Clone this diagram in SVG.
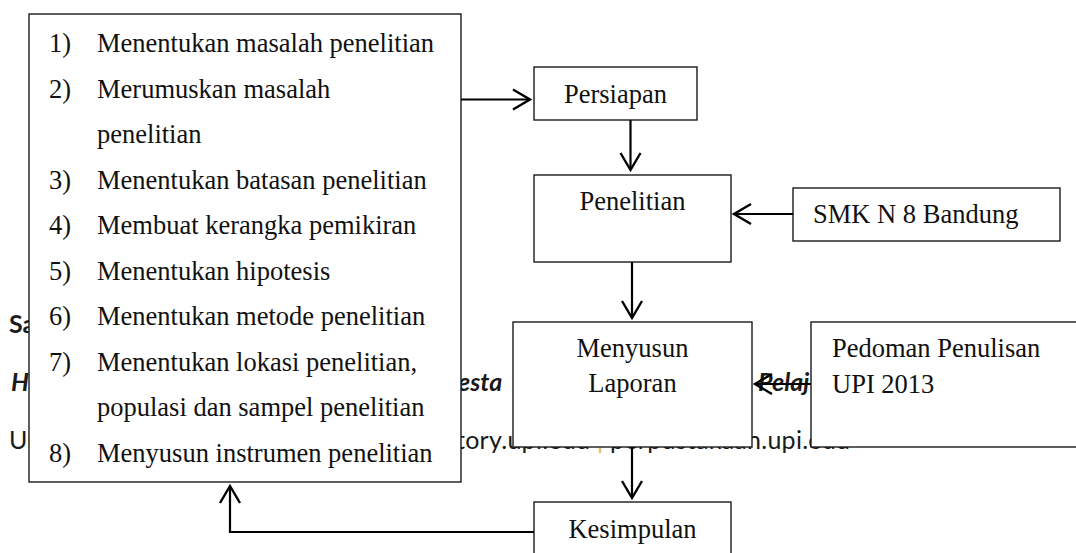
<svg xmlns="http://www.w3.org/2000/svg" width="1076" height="553" viewBox="0 0 1076 553">
<defs>
<style>
.box{fill:#fff;stroke:#1a1a1a;stroke-width:1.4}
.t{font-family:"Liberation Serif","Times New Roman",serif;font-size:26.5px;fill:#111}
.c{text-anchor:middle}
.wm{font-family:Lato,"Open Sans",sans-serif;font-size:25px;fill:#1a1a1a}
.ln{fill:none;stroke:#000;stroke-width:2.2}
</style>
<marker id="ah" markerUnits="userSpaceOnUse" markerWidth="24" markerHeight="24" refX="18" refY="11" orient="auto" overflow="visible">
<path d="M1,1 L18,11 L1,21" fill="none" stroke="#000" stroke-width="2.4"/>
</marker>
</defs>
<rect width="1076" height="553" fill="#fff"/>
<g id="watermark">
<text class="wm" x="9" y="333" font-weight="bold">Sa</text>
<text class="wm" x="11" y="391" font-weight="bold" font-style="italic">H</text>
<text class="wm" x="458" y="391" font-weight="bold" font-style="italic">esta</text>
<text class="wm" x="758" y="391" font-weight="bold" font-style="italic">Pelaj</text>
<text class="wm" x="9" y="449">Ur</text>
<text class="wm" x="456" y="449" textLength="394" lengthAdjust="spacing">tory.upi.edu <tspan fill="#f2b01e">|</tspan> perpustakaan.upi.edu</text>
</g>
<g id="node-steps">
<rect class="box" x="29" y="14" width="432" height="468"/>
<text class="t" x="49" y="52">1)</text><text class="t" x="97" y="52">Menentukan masalah penelitian</text>
<text class="t" x="49" y="97.5">2)</text><text class="t" x="97" y="97.5">Merumuskan masalah</text>
<text class="t" x="97" y="143">penelitian</text>
<text class="t" x="49" y="188.5">3)</text><text class="t" x="97" y="188.5">Menentukan batasan penelitian</text>
<text class="t" x="49" y="234">4)</text><text class="t" x="97" y="234">Membuat kerangka pemikiran</text>
<text class="t" x="49" y="279.5">5)</text><text class="t" x="97" y="279.5">Menentukan hipotesis</text>
<text class="t" x="49" y="325">6)</text><text class="t" x="97" y="325">Menentukan metode penelitian</text>
<text class="t" x="49" y="370.5">7)</text><text class="t" x="97" y="370.5">Menentukan lokasi penelitian,</text>
<text class="t" x="97" y="416">populasi dan sampel penelitian</text>
<text class="t" x="49" y="461.5">8)</text><text class="t" x="97" y="461.5">Menyusun instrumen penelitian</text>
</g>
<g id="node-persiapan">
<rect class="box" x="534" y="67" width="163" height="53"/>
<text class="t c" x="615.5" y="102.5">Persiapan</text>
</g>
<g id="node-penelitian">
<rect class="box" x="534" y="175" width="197" height="87"/>
<text class="t c" x="632.5" y="210">Penelitian</text>
</g>
<g id="node-smk">
<rect class="box" x="793" y="188" width="267" height="53"/>
<text class="t" x="813" y="223">SMK N 8 Bandung</text>
</g>
<g id="node-menyusun">
<rect class="box" x="513" y="322" width="239" height="125"/>
<text class="t c" x="632.5" y="357">Menyusun</text>
<text class="t c" x="632.5" y="392">Laporan</text>
</g>
<g id="node-pedoman">
<rect class="box" x="811" y="322" width="290" height="125"/>
<text class="t" x="832" y="357">Pedoman Penulisan</text>
<text class="t" x="832" y="393">UPI 2013</text>
</g>
<g id="node-kesimpulan">
<rect class="box" x="534" y="502" width="197" height="80"/>
<text class="t c" x="632.5" y="538">Kesimpulan</text>
</g>
<g id="connectors">
<path class="ln" d="M461,99.5 L530,99.5" marker-end="url(#ah)"/>
<path class="ln" d="M630.5,120 L630.5,170" marker-end="url(#ah)"/>
<path class="ln" d="M793,214 L734,214" marker-end="url(#ah)"/>
<path class="ln" d="M632,262 L632,318" marker-end="url(#ah)"/>
<path class="ln" d="M811,384 L755,384" marker-end="url(#ah)"/>
<path class="ln" d="M632,447 L632,498" marker-end="url(#ah)"/>
<path class="ln" d="M534,532 L230,532 L230,486" marker-end="url(#ah)"/>
</g>
</svg>
